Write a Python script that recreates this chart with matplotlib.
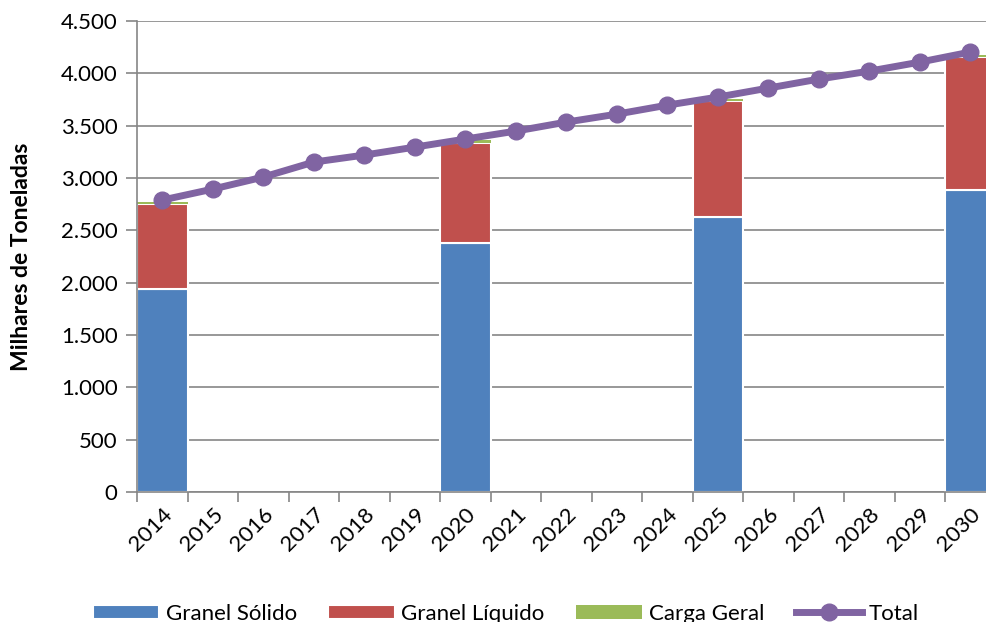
import numpy as np
import matplotlib.pyplot as plt
from matplotlib.ticker import FuncFormatter

plt.rcParams['font.family'] = ['Lato', 'DejaVu Sans']

# dados (milhares de toneladas)
anos = [str(a) for a in range(2014, 2031)]
anos_barras = ['2014', '2020', '2025', '2030']
granel_solido = [1940, 2378, 2627, 2885]
granel_liquido = [811, 955, 1108, 1270]
carga_geral = [19, 29, 19, 19]
total = [2789, 2894, 3009, 3152, 3219, 3295, 3372, 3448, 3534, 3610,
         3696, 3773, 3859, 3945, 4021, 4107, 4203]

cor_azul = '#4F81BD'
cor_verm = '#C0504D'
cor_verde = '#9BBB59'
cor_roxo = '#8064A2'

fig = plt.figure(figsize=(9.86, 6.22), dpi=100)
ax = fig.add_axes([137 / 986, 130 / 622, 858.5 / 986, 471 / 622])

x = np.arange(len(anos))
xb = np.array([anos.index(a) for a in anos_barras])
gs = np.array(granel_solido)
gl = np.array(granel_liquido)
cg = np.array(carga_geral)

b1 = ax.bar(xb, gs, width=1.0, color=cor_azul, edgecolor='white', linewidth=1.5,
            label='Granel Sólido', zorder=2)
b2 = ax.bar(xb, gl, width=1.0, bottom=gs, color=cor_verm, edgecolor='white',
            linewidth=1.5, label='Granel Líquido', zorder=2)
b3 = ax.bar(xb, cg, width=1.0, bottom=gs + gl, color=cor_verde, edgecolor='none',
            label='Carga Geral', zorder=2)
l1, = ax.plot(x, total, color=cor_roxo, linewidth=5, marker='o', markersize=12,
              label='Total', zorder=3)

ax.set_xlim(-0.5, len(anos) - 0.5)
ax.set_ylim(0, 4500)
ax.set_yticks(np.arange(0, 4501, 500))
ax.yaxis.set_major_formatter(FuncFormatter(lambda v, p: f'{int(v):,}'.replace(',', '.')))
ax.set_xticks(x)
ax.set_xticklabels(anos, rotation=45, ha='right', rotation_mode='anchor')
ax.set_xticks(np.arange(-0.5, len(anos)), minor=True)
ax.tick_params(axis='x', which='major', length=0, labelsize=16, pad=9)
ax.tick_params(axis='x', which='minor', length=7, color='#868686', width=1.2)
ax.tick_params(axis='y', length=8, color='#868686', width=1.2, labelsize=16, pad=6)

ax.grid(axis='y', color='#868686', linewidth=1.2, zorder=0)
ax.set_axisbelow(True)
for s in ['top', 'right']:
    ax.spines[s].set_visible(False)
for s in ['left', 'bottom']:
    ax.spines[s].set_color('#868686')
    ax.spines[s].set_linewidth(1.2)

ax.set_ylabel('Milhares de Toneladas', fontsize=16.5, fontweight='bold', labelpad=21)

fig.legend([b1, b2, b3, l1], ['Granel Sólido', 'Granel Líquido', 'Carga Geral', 'Total'],
           loc='lower center', bbox_to_anchor=(0.513, -0.035), ncol=4,
           frameon=False, fontsize=16, handlelength=3.0, handleheight=0.6,
           columnspacing=1.4, handletextpad=0.3)

fig.savefig('out.png', dpi=100)
